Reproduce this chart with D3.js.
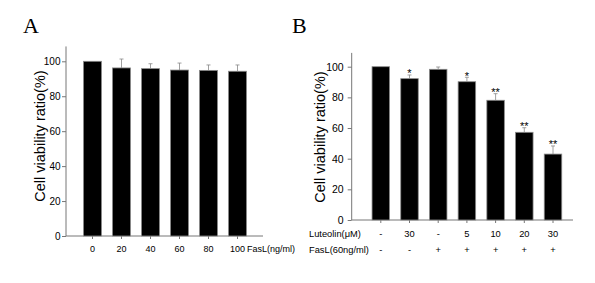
<!DOCTYPE html>
<html>
<head>
<meta charset="utf-8">
<script src="https://cdn.jsdelivr.net/npm/d3@7"></script>
<style>
  body { margin: 0; background: #fff; }
  svg { display: block; }
  text { fill: #000; }
  .axis path, .axis line { stroke: #777; }
  .axis text { fill: #000; font-family: Arial, "Liberation Sans", sans-serif; }
</style>
</head>
<body>
<svg id="chart" width="595" height="283"></svg>
<script>
// panel A : FasL dose
const fasDoses = ["0", "20", "40", "60", "80", "100"];
const fasViability = [100, 96.2, 95.8, 95.0, 94.8, 94.3];
const fasError = [0, 5.1, 2.8, 4.0, 3.1, 3.6];

// panel B : luteolin + FasL
const groups = ["g1", "g2", "g3", "g4", "g5", "g6", "g7"];
const luteolinRow = ["-", "30", "-", "5", "10", "20", "30"];
const fasLRow = ["-", "-", "+", "+", "+", "+", "+"];
const lutViability = [100, 92.2, 98.3, 90.2, 78.1, 57.2, 43.0];
const lutError = [0, 2.4, 1.5, 2.9, 4.3, 3.0, 5.3];
const stars = ["", "*", "", "*", "**", "**", "**"];

const yTicks = [0, 20, 40, 60, 80, 100];

const svg = d3.select("#chart");
const font = "Arial, 'Liberation Sans', sans-serif";

function drawPanel(cfg) {
    let g = svg.append("g");

    let x = d3.scaleBand()
        .domain(cfg.cats)
        .range(cfg.xRange)
        .paddingInner(cfg.inner)
        .paddingOuter(cfg.inner / 2);

    let y = d3.scaleLinear()
        .domain([0, 100])
        .range(cfg.yRange);

    // y axis
    let yAxis = g.append("g").attr("class", "axis")
        .attr("transform", "translate(" + cfg.axisX + ",0)")
        .call(d3.axisLeft(y).tickValues(yTicks).tickSize(4).tickPadding(cfg.tickPad).tickSizeOuter(0));
    yAxis.select("path").attr("d", "M0," + y(cfg.yTop) + "V" + y(0));
    yAxis.selectAll("text").style("font-size", cfg.yFont + "px");

    // x axis line + ticks at bar centres
    let xAxis = g.append("g").attr("class", "axis")
        .attr("transform", "translate(0," + y(0) + ")")
        .call(d3.axisBottom(x).tickSize(3).tickSizeOuter(0).tickFormat(""));
    xAxis.select("path").attr("d", "M" + cfg.axisX + ",0H" + cfg.xEnd);

    // bars
    g.selectAll("rect.bar").data(cfg.values).enter().append("rect")
        .attr("class", "bar")
        .attr("x", (d, i) => x(cfg.cats[i]))
        .attr("y", d => y(d))
        .attr("width", x.bandwidth())
        .attr("height", d => y(0) - y(d))
        .attr("fill", "#000")
        .attr("stroke", "#8a8a8a")
        .attr("stroke-width", 0.8);

    // error bars (upper only)
    cfg.values.forEach((d, i) => {
        if (cfg.errors[i] <= 0) return;
        let cx = x(cfg.cats[i]) + x.bandwidth() / 2;
        let top = y(d + cfg.errors[i]);
        let e = g.append("g").attr("stroke", "#888").attr("stroke-width", 0.8);
        e.append("line").attr("x1", cx).attr("x2", cx).attr("y1", y(d)).attr("y2", top);
        e.append("line").attr("x1", cx - 2).attr("x2", cx + 2).attr("y1", top).attr("y2", top);
    });

    // y label
    g.append("text")
        .attr("transform", "translate(" + cfg.labelX + "," + cfg.labelY + ") rotate(-90)")
        .attr("text-anchor", "middle")
        .style("font-family", font)
        .style("font-size", "14.5px")
        .text("Cell viability ratio(%)");

    // panel letter
    g.append("text")
        .attr("x", cfg.letterX).attr("y", 33)
        .style("font-family", "'Liberation Serif', 'Times New Roman', serif")
        .style("font-size", "22px")
        .text(cfg.letter);

    return {g: g, x: x, y: y};
}

// ---- panel A
let A = drawPanel({
    cats: fasDoses, values: fasViability, errors: fasError,
    xRange: [78, 252], inner: 0.38,
    yRange: [236, 61.3], yTop: 108.5,
    axisX: 66, xEnd: 263, tickPad: 1.5, yFont: 10,
    labelX: 45, labelY: 136, letter: "A", letterX: 23
});
A.g.selectAll("text.xlab").data(fasDoses).enter().append("text")
    .attr("class", "xlab")
    .attr("x", d => A.x(d) + A.x.bandwidth() / 2)
    .attr("y", 251.5)
    .attr("text-anchor", "middle")
    .style("font-family", font)
    .style("font-size", "9px")
    .text(d => d);
A.g.append("text")
    .attr("x", 247).attr("y", 251.5)
    .style("font-family", font)
    .style("font-size", "9px")
    .text("FasL(ng/ml)");

// ---- panel B
let B = drawPanel({
    cats: groups, values: lutViability, errors: lutError,
    xRange: [366.45, 567.35], inner: 0.39,
    yRange: [220, 66.7], yTop: 109,
    axisX: 351.7, xEnd: 573, tickPad: 4, yFont: 10.5,
    labelX: 325, labelY: 137, letter: "B", letterX: 292
});

// significance stars
B.g.selectAll("text.star").data(stars).enter().append("text")
    .attr("class", "star")
    .attr("x", (d, i) => B.x(groups[i]) + B.x.bandwidth() / 2)
    .attr("y", (d, i) => B.y(lutViability[i] + lutError[i]) + 2.5)
    .attr("text-anchor", "middle")
    .style("font-family", font)
    .style("font-size", "11px")
    .text(d => d);

// treatment rows
const rows = [
    {name: "Luteolin(\u03bcM)", vals: luteolinRow, y: 236.5},
    {name: "FasL(60ng/ml)", vals: fasLRow, y: 252.5}
];
rows.forEach(r => {
    B.g.append("text")
        .attr("x", 309).attr("y", r.y)
        .style("font-family", font)
        .style("font-size", "9.3px")
        .text(r.name);
    B.g.selectAll(null).data(r.vals).enter().append("text")
        .attr("x", (d, i) => B.x(groups[i]) + B.x.bandwidth() / 2)
        .attr("y", r.y)
        .attr("text-anchor", "middle")
        .style("font-family", font)
        .style("font-size", "9.3px")
        .text(d => d);
});
</script>
</body>
</html>
